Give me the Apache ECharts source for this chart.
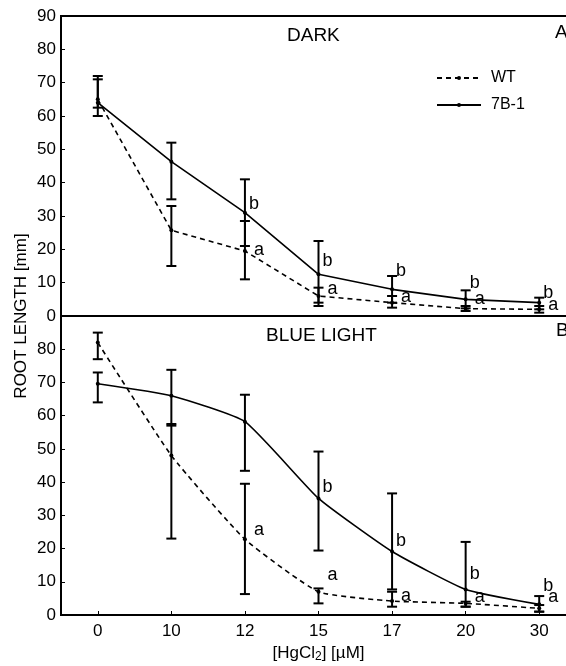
<!DOCTYPE html>
<html>
<head>
<meta charset="utf-8">
<script src="https://cdn.jsdelivr.net/npm/echarts@6/dist/echarts.min.js"></script>
<style>
  html, body { margin: 0; padding: 0; background: #fff; overflow: hidden; }
  /* the figure is cut off on the right, so the chart is a bit wider than the window */
  #chart { width: 580px; height: 666px; }
</style>
</head>
<body>
<div id="chart"></div>
<script>
// HgCl2 concentrations (uM)
var concentrations = ['0', '10', '12', '15', '17', '20', '30'];
var yTicks = [0, 10, 20, 30, 40, 50, 60, 70, 80, 90];

// DARK panel
var darkWT      = [65, 25.7, 19.5, 6, 4, 2.2, 2];
var darkWTLow   = [60, 15, 11, 4, 2.5, 1.5, 1];
var darkWTHigh  = [71, 33, 28.5, 8.5, 6, 3, 3];
var dark7B      = [64, 46.3, 31, 12.5, 8, 5, 4];
var dark7BLow   = [62.5, 35, 21, 3, 4, 2.3, 2];
var dark7BHigh  = [72, 52, 41, 22.5, 12, 7.7, 5.5];
var darkLetterB = [null, null, 33.5, 16.5, 13.5, 10, 7];
var darkLetterA = [null, null, 19.8, 8, 5.6, 5, 3.2];

// BLUE LIGHT panel
var lightWT      = [82, 48, 22.8, 7, 4.2, 3.5, 2];
var lightWTLow   = [77, 23, 6.3, 3.5, 2.5, 2.5, 1];
var lightWTHigh  = [85, 57.5, 39.5, 8, 7, 4, 3];
var light7B      = [69.6, 66, 58.2, 35.1, 19.1, 7.7, 3.2];
var light7BLow   = [64, 57, 43.4, 19.4, 7.7, 2.5, 1];
var light7BHigh  = [73, 73.8, 66.3, 49.2, 36.6, 22, 5.7];
var lightLetterB = [null, null, null, 38.6, 22.3, 12.3, 8.7];
var lightLetterA = [null, null, 25.6, 12, 5.7, 5.4, 5.4];

var FONT = 'Liberation Sans, Arial, sans-serif';

function errorSeries(name, gridIdx, low, high) {
    var data = low.map(function (v, i) { return [i, low[i], high[i]]; });
    return {
        name: name,
        type: 'custom',
        xAxisIndex: gridIdx,
        yAxisIndex: gridIdx,
        data: data,
        encode: { x: 0, y: [1, 2] },
        z: 5,
        silent: true,
        renderItem: function (params, api) {
            var a = api.coord([api.value(0), api.value(1)]);
            var b = api.coord([api.value(0), api.value(2)]);
            var w = 5;
            var st = { stroke: '#000', lineWidth: 2 };
            return {
                type: 'group',
                children: [
                    { type: 'line', shape: { x1: a[0], y1: a[1], x2: b[0], y2: b[1] }, style: st },
                    { type: 'line', shape: { x1: a[0] - w, y1: a[1], x2: a[0] + w, y2: a[1] }, style: st },
                    { type: 'line', shape: { x1: b[0] - w, y1: b[1], x2: b[0] + w, y2: b[1] }, style: st }
                ]
            };
        }
    };
}

function letterSeries(gridIdx, heights, letter, dx) {
    var data = [];
    heights.forEach(function (h, i) { if (h !== null) data.push([i, h]); });
    return {
        type: 'custom',
        xAxisIndex: gridIdx,
        yAxisIndex: gridIdx,
        data: data,
        z: 6,
        silent: true,
        renderItem: function (params, api) {
            var p = api.coord([api.value(0), api.value(1)]);
            return {
                type: 'text',
                x: p[0] + dx,
                y: p[1],
                style: { text: letter, fill: '#000', font: '18px ' + FONT, verticalAlign: 'middle', align: 'left' }
            };
        }
    };
}

function lineSeries(name, gridIdx, values, dashed, smooth) {
    return {
        name: name,
        type: 'line',
        xAxisIndex: gridIdx,
        yAxisIndex: gridIdx,
        data: values,
        smooth: smooth,
        symbol: 'circle',
        symbolSize: 4,
        itemStyle: { color: '#000' },
        lineStyle: { color: '#000', width: 1.6, type: dashed ? [5, 4] : 'solid' },
        z: 4,
        silent: true
    };
}

var chart = echarts.init(document.getElementById('chart'));

var axisLineStyle = { show: true, lineStyle: { color: '#000', width: 2 } };
var innerTick = { show: true, inside: true, length: 4, lineStyle: { color: '#000', width: 1 } };
var titleText = { fontSize: 19, fontWeight: 'normal', color: '#000', fontFamily: FONT };

var option = {
    animation: false,
    textStyle: { fontFamily: FONT },
    title: [
        { text: 'DARK', left: 287, top: 26, padding: 0, textStyle: titleText },
        { text: 'BLUE LIGHT', left: 266, top: 326, padding: 0, textStyle: titleText },
        { text: 'A', left: 555, top: 23, padding: 0, textStyle: titleText },
        { text: 'B', left: 556, top: 321, padding: 0, textStyle: titleText }
    ],
    legend: {
        data: ['WT', '7B-1'],
        orient: 'vertical',
        left: 436,
        top: 70,
        itemWidth: 44,
        itemHeight: 5,
        itemGap: 11,
        padding: 0,
        textStyle: { fontSize: 16, color: '#000', fontFamily: FONT, padding: [0, 0, 0, 5] }
    },
    grid: [
        { left: 61, top: 16, width: 515, height: 300, show: true, borderColor: '#000', borderWidth: 2 },
        { left: 61, top: 316, width: 515, height: 299, show: true, borderColor: '#000', borderWidth: 2 }
    ],
    xAxis: [
        {
            type: 'category', gridIndex: 0, data: concentrations,
            axisLine: axisLineStyle, axisTick: { show: false }, axisLabel: { show: false }
        },
        {
            type: 'category', gridIndex: 1, data: concentrations,
            axisLine: axisLineStyle,
            axisTick: Object.assign({ alignWithLabel: true }, innerTick),
            axisLabel: { fontSize: 17, color: '#000', margin: 8, fontFamily: FONT },
            name: '[HgCl{sub|2}] [µM]',
            nameLocation: 'middle',
            nameGap: 29,
            nameTextStyle: {
                fontSize: 17, color: '#000', fontFamily: FONT,
                rich: { sub: { fontSize: 12, verticalAlign: 'bottom', padding: [7, 0, 0, 0], fontFamily: FONT } }
            }
        }
    ],
    yAxis: [0, 1].map(function (g) {
        return {
            type: 'value', gridIndex: g,
            min: yTicks[0], max: yTicks[yTicks.length - 1], interval: yTicks[1] - yTicks[0],
            axisLine: axisLineStyle, axisTick: innerTick, splitLine: { show: false },
            axisLabel: { fontSize: 17, color: '#000', margin: 5, fontFamily: FONT, showMaxLabel: g === 0 }
        };
    }),
    graphic: [
        {
            type: 'text', x: 21, y: 316, rotation: Math.PI / 2,
            style: { text: 'ROOT LENGTH [mm]', font: '17px ' + FONT, fill: '#000', align: 'center', verticalAlign: 'middle' }
        }
    ],
    series: [
        lineSeries('WT', 0, darkWT, true, false),
        lineSeries('7B-1', 0, dark7B, false, false),
        errorSeries('WT', 0, darkWTLow, darkWTHigh),
        errorSeries('7B-1', 0, dark7BLow, dark7BHigh),
        letterSeries(0, darkLetterB, 'b', 4),
        letterSeries(0, darkLetterA, 'a', 9),
        lineSeries('WT', 1, lightWT, true, 0.15),
        lineSeries('7B-1', 1, light7B, false, 0.15),
        errorSeries('WT', 1, lightWTLow, lightWTHigh),
        errorSeries('7B-1', 1, light7BLow, light7BHigh),
        letterSeries(1, lightLetterB, 'b', 4),
        letterSeries(1, lightLetterA, 'a', 9)
    ]
};

chart.setOption(option);
</script>
</body>
</html>
